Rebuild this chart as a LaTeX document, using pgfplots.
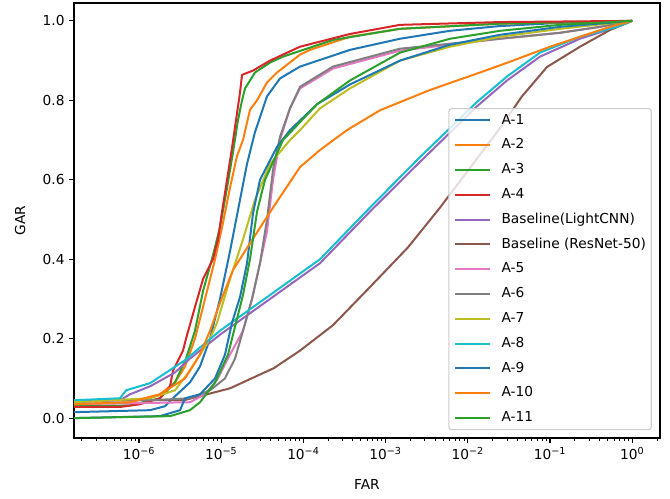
\documentclass[border=0pt]{standalone}
\usepackage{fontspec}
\setmainfont{DejaVu Sans}
\usepackage{pgfplots}
\pgfplotsset{compat=1.18}
\definecolor{tabblue}{HTML}{1F77B4}
\definecolor{taborange}{HTML}{FF7F0E}
\definecolor{tabgreen}{HTML}{2CA02C}
\definecolor{tabred}{HTML}{D62728}
\definecolor{tabpurple}{HTML}{9467BD}
\definecolor{tabbrown}{HTML}{8C564B}
\definecolor{tabpink}{HTML}{E377C2}
\definecolor{tabgray}{HTML}{7F7F7F}
\definecolor{tabolive}{HTML}{BCBD22}
\definecolor{tabcyan}{HTML}{17BECF}
\newcommand{\mpl}{\fontsize{10.3}{12}\selectfont}
\newcommand{\e}[1]{10\textsuperscript{#1}}
\begin{document}
\begin{tikzpicture}
\begin{axis}[
  scale only axis, width=439.5pt, height=326.25pt,
  xmin=-6.791, xmax=0.338, ymin=-0.05, ymax=1.045,
  clip=false,
  axis line style={black, line width=0.8pt},
  tick align=outside, xtick pos=bottom, ytick pos=left,
  major tick length=3.6pt, minor tick length=2.1pt,
  every tick/.style={black, line width=0.8pt},
  minor tick style={black, line width=0.6pt},
  xtick={-6,-5,-4,-3,-2,-1,0},
  xticklabels={\e{−6},\e{−5},\e{−4},\e{−3},\e{−2},\e{−1},\e{0}},
  minor xtick={-6.699,-6.523,-6.398,-6.301,-6.222,-6.155,-6.097,-6.046,
    -5.699,-5.523,-5.398,-5.301,-5.222,-5.155,-5.097,-5.046,
    -4.699,-4.523,-4.398,-4.301,-4.222,-4.155,-4.097,-4.046,
    -3.699,-3.523,-3.398,-3.301,-3.222,-3.155,-3.097,-3.046,
    -2.699,-2.523,-2.398,-2.301,-2.222,-2.155,-2.097,-2.046,
    -1.699,-1.523,-1.398,-1.301,-1.222,-1.155,-1.097,-1.046,
    -0.699,-0.523,-0.398,-0.301,-0.222,-0.155,-0.097,-0.046,0.301},
  ytick={0,0.2,0.4,0.6,0.8,1.0},
  yticklabels={0.0,0.2,0.4,0.6,0.8,1.0},
  every tick label/.style={font=\mpl},
  xlabel={FAR}, ylabel={GAR},
  label style={font=\mpl},
  xlabel style={at={(axis description cs:0.5,-0.108)}, anchor=center},
  ylabel style={at={(axis description cs:-0.092,0.5)}, anchor=center},
  every axis plot/.append style={line width=1.5pt, line join=round},
  legend cell align=left,
  legend image code/.code={\draw[#1] (0pt,0pt) -- (26pt,0pt);},
  legend style={at={(axis description cs:0.986,0.018)}, anchor=south east,
    draw=black!20, line width=0.8pt, rounded corners=2pt,
    fill=white, fill opacity=0.8, text opacity=1, draw opacity=1,
    font=\mpl, inner sep=4pt, row sep=9.1pt, column sep=8pt,
    nodes={inner sep=0pt, text height=7.5pt, text depth=2pt}},
]
% A-1
\addplot[tabblue] coordinates {(-6.791,0.015) (-5.866,0.02) (-5.684,0.03) (-5.562,0.055) (-5.380,0.09) (-5.258,0.13) (-5.136,0.20) (-5.015,0.30) (-4.893,0.42) (-4.771,0.55) (-4.686,0.64) (-4.589,0.72) (-4.443,0.81) (-4.285,0.855) (-4.041,0.885) (-3.433,0.927) (-2.825,0.955) (-2.217,0.975) (-1.608,0.987) (-0.878,0.995) (0,1)};
\addlegendentry{A-1}
% A-2
\addplot[taborange] coordinates {(-6.791,0.035) (-6.109,0.04) (-5.745,0.06) (-5.562,0.09) (-5.440,0.13) (-5.319,0.20) (-5.197,0.30) (-5.075,0.40) (-4.990,0.48) (-4.893,0.58) (-4.808,0.66) (-4.735,0.70) (-4.650,0.776) (-4.564,0.80) (-4.443,0.845) (-4.321,0.87) (-4.041,0.915) (-3.920,0.927) (-3.433,0.96) (-2.825,0.98) (-1.608,0.993) (0,1)};
\addlegendentry{A-2}
% A-3
\addplot[tabgreen] coordinates {(-6.791,0.03) (-6.109,0.032) (-5.745,0.05) (-5.562,0.09) (-5.428,0.15) (-5.319,0.22) (-5.221,0.32) (-5.100,0.41) (-5.015,0.48) (-4.929,0.58) (-4.856,0.67) (-4.796,0.75) (-4.747,0.80) (-4.710,0.83) (-4.589,0.87) (-4.406,0.895) (-4.248,0.91) (-3.640,0.952) (-2.825,0.98) (-1.608,0.993) (0,1)};
\addlegendentry{A-3}
% A-4
\addplot[tabred] coordinates {(-6.791,0.028) (-6.231,0.028) (-5.988,0.035) (-5.745,0.05) (-5.623,0.08) (-5.586,0.12) (-5.465,0.17) (-5.428,0.20) (-5.319,0.28) (-5.221,0.35) (-5.100,0.40) (-5.039,0.45) (-4.990,0.52) (-4.929,0.60) (-4.869,0.68) (-4.820,0.75) (-4.771,0.82) (-4.747,0.864) (-4.613,0.875) (-4.406,0.90) (-4.041,0.935) (-3.433,0.967) (-2.825,0.99) (-1.608,0.997) (0,1)};
\addlegendentry{A-4}
% Baseline (LightCNN)
\addplot[tabpurple] coordinates {(-6.791,0.04) (-6.231,0.045) (-6.109,0.06) (-5.866,0.08) (-5.562,0.115) (-5.380,0.15) (-5.015,0.21) (-4.406,0.30) (-3.798,0.39) (-3.190,0.52) (-2.582,0.645) (-1.888,0.785) (-1.523,0.85) (-1.122,0.91) (-0.635,0.955) (-0.185,0.985) (0,1)};
\addlegendentry{Baseline(LightCNN)}
% Baseline (ResNet-50)
\addplot[tabbrown] coordinates {(-6.791,0.045) (-5.866,0.045) (-5.453,0.045) (-4.893,0.075) (-4.358,0.126) (-4.041,0.17) (-3.640,0.234) (-3.190,0.33) (-2.727,0.43) (-2.338,0.53) (-1.973,0.63) (-1.608,0.73) (-1.341,0.81) (-1.036,0.884) (-0.635,0.935) (-0.270,0.977) (0,1)};
\addlegendentry{Baseline (ResNet-50)}
% A-5
\addplot[tabpink] coordinates {(-6.791,0.035) (-5.380,0.04) (-5.197,0.06) (-5.051,0.096) (-4.893,0.16) (-4.735,0.22) (-4.625,0.30) (-4.528,0.39) (-4.443,0.47) (-4.370,0.60) (-4.285,0.70) (-4.163,0.78) (-4.041,0.83) (-3.640,0.88) (-2.825,0.925) (-1.608,0.955) (-0.878,0.97) (-0.392,0.985) (0,1)};
\addlegendentry{A-5}
% A-6
\addplot[tabgray] coordinates {(-6.791,0.045) (-5.866,0.045) (-5.380,0.05) (-5.136,0.07) (-4.954,0.10) (-4.832,0.15) (-4.735,0.22) (-4.625,0.30) (-4.528,0.39) (-4.443,0.50) (-4.370,0.625) (-4.285,0.708) (-4.163,0.78) (-4.041,0.834) (-3.640,0.885) (-2.825,0.93) (-1.608,0.955) (-0.878,0.97) (-0.392,0.985) (0,1)};
\addlegendentry{A-6}
% A-7
\addplot[tabolive] coordinates {(-6.791,0.04) (-5.866,0.05) (-5.562,0.07) (-5.380,0.12) (-5.258,0.16) (-5.136,0.20) (-5.051,0.24) (-4.893,0.35) (-4.735,0.45) (-4.589,0.55) (-4.406,0.64) (-4.163,0.70) (-4.041,0.725) (-3.798,0.78) (-3.433,0.83) (-2.825,0.90) (-2.217,0.935) (-1.608,0.96) (-0.878,0.98) (0,1)};
\addlegendentry{A-7}
% A-8
\addplot[tabcyan] coordinates {(-6.791,0.045) (-6.231,0.05) (-6.158,0.07) (-5.866,0.088) (-5.586,0.126) (-5.440,0.146) (-5.015,0.22) (-4.406,0.31) (-3.798,0.40) (-3.190,0.53) (-2.582,0.657) (-1.888,0.796) (-1.523,0.86) (-1.122,0.92) (-0.635,0.96) (-0.185,0.985) (0,1)};
\addlegendentry{A-8}
% A-9
\addplot[tabblue] coordinates {(-6.791,0.0) (-5.745,0.005) (-5.501,0.02) (-5.440,0.05) (-5.258,0.06) (-5.075,0.10) (-4.954,0.16) (-4.869,0.24) (-4.771,0.305) (-4.686,0.39) (-4.613,0.516) (-4.528,0.60) (-4.321,0.683) (-4.163,0.725) (-3.835,0.79) (-3.433,0.84) (-2.825,0.90) (-2.217,0.94) (-1.608,0.965) (-0.878,0.985) (0,1)};
\addlegendentry{A-9}
% A-10
\addplot[taborange] coordinates {(-6.791,0.035) (-6.109,0.04) (-5.745,0.06) (-5.440,0.10) (-5.258,0.16) (-5.136,0.22) (-5.015,0.29) (-4.856,0.373) (-4.650,0.44) (-4.370,0.53) (-4.041,0.632) (-3.798,0.675) (-3.470,0.725) (-3.068,0.775) (-2.460,0.826) (-1.852,0.87) (-1.450,0.90) (-1.000,0.935) (-0.635,0.96) (-0.270,0.985) (0,1)};
\addlegendentry{A-10}
% A-11
\addplot[tabgreen] coordinates {(-6.791,0.0) (-5.623,0.005) (-5.380,0.02) (-5.258,0.04) (-5.075,0.09) (-4.917,0.16) (-4.820,0.24) (-4.735,0.31) (-4.650,0.40) (-4.564,0.52) (-4.467,0.60) (-4.248,0.70) (-3.835,0.79) (-3.433,0.85) (-2.825,0.92) (-2.217,0.955) (-1.608,0.975) (-0.878,0.99) (0,1)};
\addlegendentry{A-11}
% page margins as in the reference
\path (rel axis cs:-0.1263,-0.138) rectangle (rel axis cs:1.0171,1.0069);
\end{axis}
\end{tikzpicture}
\end{document}
